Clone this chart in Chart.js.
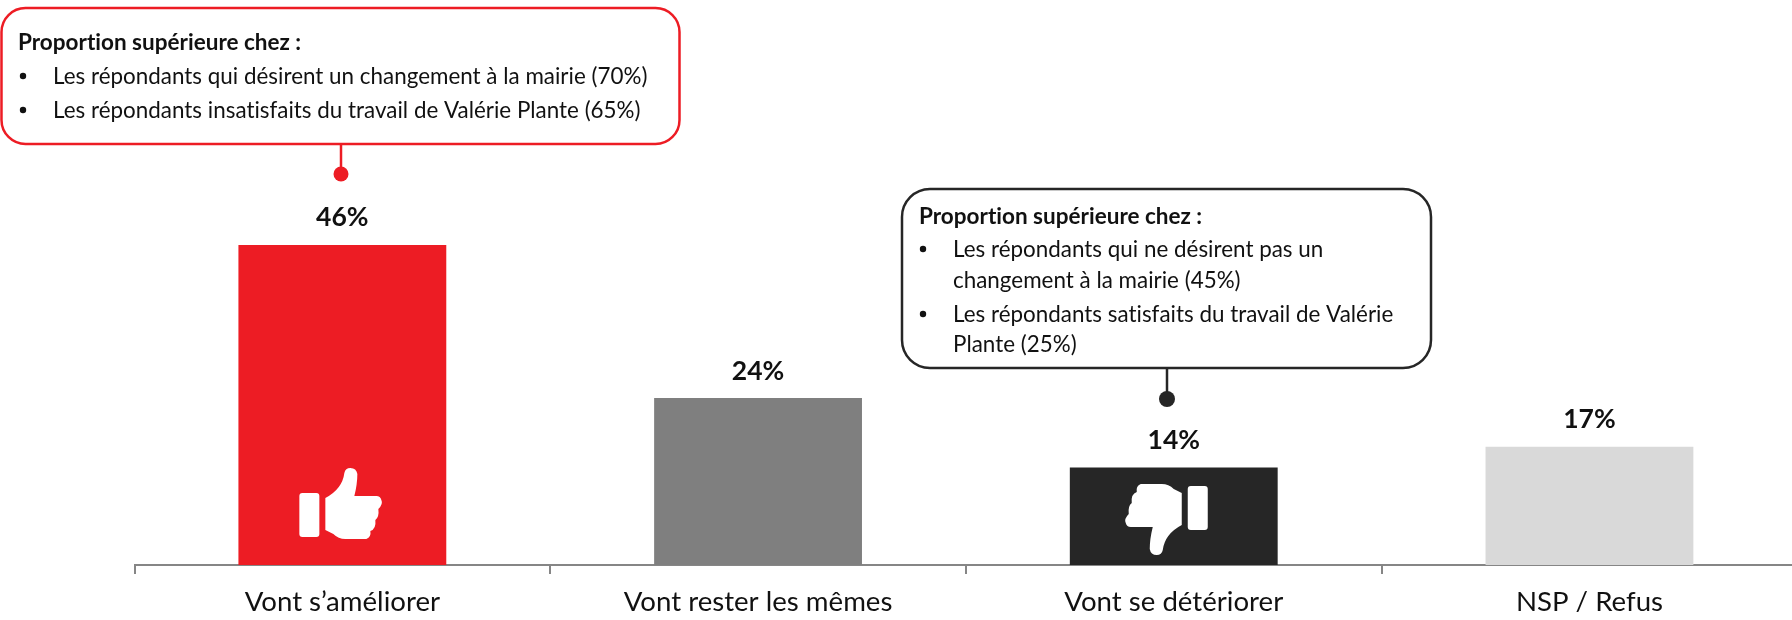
<!DOCTYPE html>
<html lang="fr">
<head>
<meta charset="utf-8">
<title>Proportion</title>
<style>
html,body{margin:0;padding:0;background:#fff;overflow:hidden;width:1792px;height:620px}
#wrap{width:1792px;height:620px;overflow:hidden;position:relative}
canvas{display:block}
</style>
<script src="https://cdn.jsdelivr.net/npm/chart.js@4/dist/chart.umd.min.js"></script>
</head>
<body>
<div id="wrap"><canvas id="c" width="1800" height="620"></canvas></div>
<script>
const categories = ["Vont s’améliorer", "Vont rester les mêmes", "Vont se détériorer", "NSP / Refus"];
const values = [46, 24, 14, 17];
const calloutTitle = "Proportion supérieure chez :";
const calloutRedLines = ["Les répondants qui désirent un changement à la mairie (70%)", "Les répondants insatisfaits du travail de Valérie Plante (65%)"];
const calloutDarkLines = ["Les répondants qui ne désirent pas un", "changement à la mairie (45%)", "Les répondants satisfaits du travail de Valérie", "Plante (25%)"];

const RED = "#ED1C24", GREY = "#7F7F7F", DARK = "#262626", LIGHT = "#D9D9D9", AXIS = "#868686";
const FONT = "Lato";

function thumbPath() {
  const p = new Path2D();
  p.roundRect(0, 25, 20, 44, 3);
  p.moveTo(26, 30);
  p.lineTo(26, 62);
  p.lineTo(34, 66);
  p.quadraticCurveTo(39, 71, 46, 71);
  p.lineTo(67, 71);
  p.quadraticCurveTo(72, 69, 71, 63);
  p.quadraticCurveTo(77, 61, 76, 52);
  p.quadraticCurveTo(80, 49, 79, 41);
  p.quadraticCurveTo(84, 36, 82, 32);
  p.quadraticCurveTo(81, 28, 77, 28);
  p.lineTo(55, 28);
  p.quadraticCurveTo(58, 16, 58, 6);
  p.quadraticCurveTo(57, 0, 51, 0);
  p.quadraticCurveTo(46, 0, 45, 5);
  p.quadraticCurveTo(43, 21, 26, 30);
  p.closePath();
  return p;
}

function callout(ctx, o) {
  ctx.save();
  ctx.strokeStyle = o.color; ctx.fillStyle = "#fff"; ctx.lineWidth = o.lw;
  ctx.beginPath();
  ctx.roundRect(o.x, o.y, o.w, o.h, o.r);
  ctx.fill(); ctx.stroke();
  ctx.beginPath();
  ctx.moveTo(o.px, o.y + o.h); ctx.lineTo(o.px, o.dotY); ctx.stroke();
  ctx.fillStyle = o.color;
  ctx.beginPath(); ctx.arc(o.px, o.dotY, o.dotR, 0, Math.PI * 2); ctx.fill();
  ctx.fillStyle = "#111"; ctx.textBaseline = "middle"; ctx.textAlign = "left";
  ctx.font = "bold 22.5px " + FONT;
  ctx.fillText(calloutTitle, o.titleX, o.titleY);
  ctx.font = "22.4px " + FONT;
  o.lines.forEach((t, i) => ctx.fillText(t, o.textX, o.lineY[i]));
  o.bullets.forEach(y => { ctx.beginPath(); ctx.arc(o.bulletX, y, 3.2, 0, Math.PI * 2); ctx.fill(); });
  ctx.restore();
}

const overlay = {
  id: "overlay",
  beforeDraw(chart) { chart.ctx.letterSpacing = "0.01px"; },
  afterDatasetsDraw(chart) {
    const ctx = chart.ctx, xs = chart.scales.x, ys = chart.scales.y;
    // value labels
    ctx.save();
    ctx.fillStyle = "#111"; ctx.textAlign = "center"; ctx.textBaseline = "middle";
    ctx.font = "bold 26.5px " + FONT;
    values.forEach((v, i) => ctx.fillText(v + "%", xs.getPixelForValue(i), ys.getPixelForValue(v) - 27));
    ctx.restore();
    // icons
    const base = ys.getPixelForValue(0), icon = thumbPath();
    ctx.save(); ctx.fillStyle = "#fff";
    ctx.translate(xs.getPixelForValue(0) - 43, base - 97);
    ctx.fill(icon);
    ctx.restore();
    ctx.save(); ctx.fillStyle = "#fff";
    ctx.translate(xs.getPixelForValue(2) + 34, base - 10);
    ctx.rotate(Math.PI);
    ctx.fill(icon);
    ctx.restore();
    // callouts
    callout(ctx, {color: RED, lw: 2.5, x: 1.5, y: 8, w: 678, h: 136, r: 24, px: 341, dotY: 174, dotR: 7.5,
      titleX: 18, titleY: 43, textX: 53, bulletX: 23, lines: calloutRedLines, lineY: [77, 111], bullets: [76, 110]});
    callout(ctx, {color: DARK, lw: 2.5, x: 902, y: 189, w: 529, h: 179, r: 28, px: 1167, dotY: 399, dotR: 8,
      titleX: 919, titleY: 217, textX: 953, bulletX: 923, lines: calloutDarkLines, lineY: [250, 281, 315, 345], bullets: [249, 314]});
  }
};

new Chart(document.getElementById("c"), {
  type: "bar",
  data: {
    labels: categories,
    datasets: [{
      data: values,
      backgroundColor: [RED, GREY, DARK, LIGHT],
      borderWidth: 0,
      categoryPercentage: 0.5,
      barPercentage: 1
    }]
  },
  options: {
    responsive: false,
    animation: false,
    events: [],
    layout: {padding: {left: 134.5, right: 2.7, top: 0, bottom: 0}},
    plugins: {legend: {display: false}, tooltip: {enabled: false}},
    scales: {
      x: {
        afterFit(s) { s.height = 55; },
        border: {display: true, color: AXIS, width: 2},
        grid: {display: true, drawOnChartArea: false, drawTicks: true, tickLength: 9, color: AXIS, lineWidth: 2, offset: true},
        ticks: {color: "#111", font: {family: FONT, size: 27.6}, padding: 12, maxRotation: 0, autoSkip: false}
      },
      y: {display: false, min: 0, max: 81.2}
    }
  },
  plugins: [overlay]
});
</script>
</body>
</html>
